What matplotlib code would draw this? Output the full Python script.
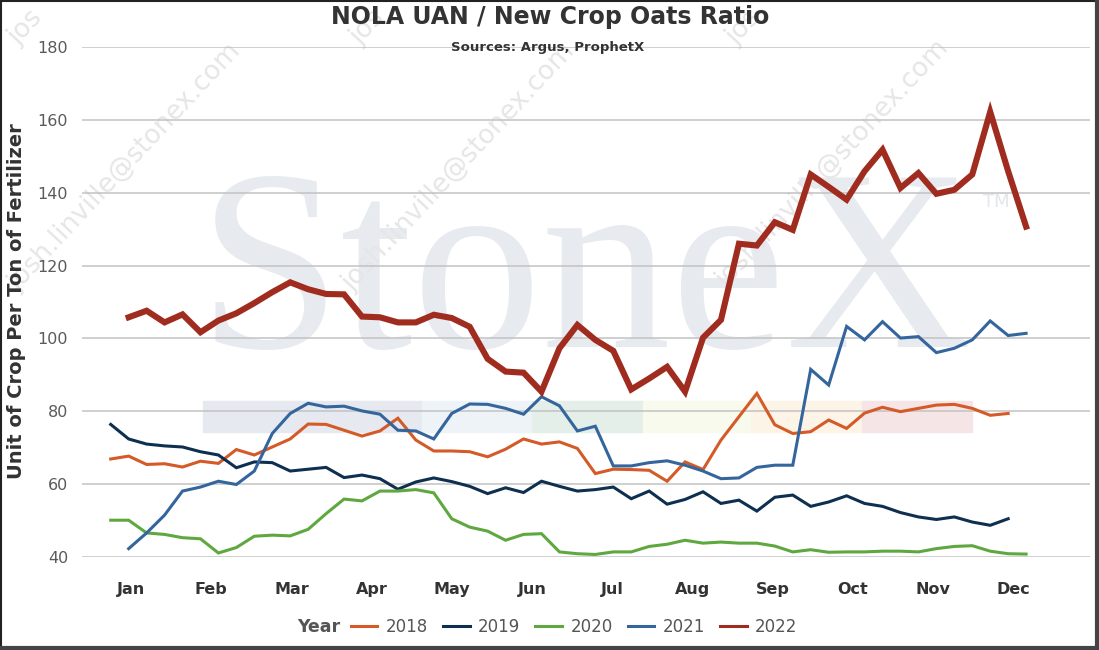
import numpy as np
import matplotlib.pyplot as plt
from matplotlib.patches import Rectangle
from matplotlib.lines import Line2D

# weekly ratio values (week index 0 = first week shown)
months = ['Jan', 'Feb', 'Mar', 'Apr', 'May', 'Jun', 'Jul', 'Aug', 'Sep', 'Oct', 'Nov', 'Dec']
years = ['2018', '2019', '2020', '2021', '2022']
colors = ['#d45a27', '#0e2f4f', '#5ea83f', '#34659c', '#a02c20']
widths = [2.2, 2.2, 2.2, 2.2, 4.4]
first_week = [0, 0, 0, 1, 1]

v2018 = [66.9, 67.7, 65.4, 65.6, 64.7, 66.3, 65.7, 69.5, 68.0, 70.2,
         72.4, 76.5, 76.4, 74.8, 73.2, 74.6, 78.1, 72.1, 69.1, 69.1,
         68.9, 67.5, 69.6, 72.4, 71.0, 71.6, 69.8, 62.9, 64.1, 64.0,
         63.8, 60.8, 66.1, 64.0, 72.1, 78.5, 84.9, 76.3, 73.9, 74.4,
         77.6, 75.3, 79.5, 81.1, 79.9, 80.8, 81.7, 81.9, 80.8, 78.9, 79.4]
v2019 = [76.4, 72.4, 71.0, 70.5, 70.2, 68.9, 68.0, 64.5, 66.1, 65.9,
         63.6, 64.1, 64.6, 61.8, 62.5, 61.5, 58.6, 60.6, 61.7, 60.7,
         59.4, 57.4, 59.0, 57.7, 60.8, 59.4, 58.1, 58.5, 59.2, 56.0,
         58.1, 54.5, 55.8, 57.9, 54.7, 55.6, 52.6, 56.4, 57.0, 53.9,
         55.1, 56.8, 54.7, 53.9, 52.2, 51.0, 50.3, 51.0, 49.6, 48.7, 50.5]
v2020 = [50.1, 50.1, 46.6, 46.2, 45.3, 45.0, 41.1, 42.6, 45.7, 46.0,
         45.8, 47.6, 51.9, 55.9, 55.4, 58.1, 58.1, 58.5, 57.6, 50.5,
         48.2, 47.1, 44.6, 46.2, 46.4, 41.4, 40.9, 40.7, 41.4, 41.4,
         42.9, 43.5, 44.6, 43.8, 44.1, 43.8, 43.8, 43.0, 41.4, 42.0,
         41.3, 41.4, 41.4, 41.6, 41.6, 41.4, 42.3, 42.9, 43.1, 41.6,
         40.9, 40.8]
v2021 = [42.3, 46.6, 51.5, 58.1, 59.2, 60.8, 59.9, 63.6, 73.9, 79.4,
         82.2, 81.2, 81.4, 80.1, 79.2, 74.8, 74.6, 72.4, 79.4, 82.0,
         81.9, 80.8, 79.2, 84.0, 81.5, 74.6, 75.9, 65.0, 65.0, 65.9,
         66.4, 65.2, 63.6, 61.5, 61.7, 64.6, 65.2, 65.2, 91.5, 87.2,
         103.3, 99.6, 104.6, 100.1, 100.5, 96.1, 97.3, 99.6, 104.8, 100.8,
         101.4]
v2022 = [105.8, 107.6, 104.4, 106.6, 101.7, 104.9, 106.9, 109.7, 112.7, 115.4,
         113.5, 112.2, 112.1, 106.0, 105.8, 104.4, 104.4, 106.5, 105.6, 103.2,
         94.4, 90.9, 90.6, 85.4, 97.3, 103.7, 99.6, 96.6, 86.0, 89.0,
         92.2, 85.4, 100.2, 105.1, 126.0, 125.5, 131.9, 129.8, 145.0, 141.6,
         138.1, 145.9, 151.8, 141.3, 145.4, 139.7, 140.8, 145.0, 162.2, 145.9,
         130.7]
series = [v2018, v2019, v2020, v2021, v2022]

W, H = 1099, 650


def fx(px):
    return px / W


def fy(py):
    return 1 - py / H


fig = plt.figure(figsize=(W / 100, H / 100), dpi=100)
fig.patch.set_facecolor('white')

# watermark: big logo, colour band and e-mail stamps
fig.text(fx(198), fy(347), 'StoneX', fontsize=186, family='Liberation Serif',
         color='#e7eaef', ha='left', va='baseline', zorder=0)
fig.text(fx(983), fy(207), 'TM', fontsize=13, color='#e3e6ea', zorder=0)
band_x = [203, 422, 532, 643, 751, 862, 972]
band_c = ['#e6e9ef', '#eef3f8', '#e5efe9', '#f9faee', '#fdf4e8', '#f6e5e7']
for i, c in enumerate(band_c):
    fig.patches.append(Rectangle((fx(band_x[i]), fy(432)), fx(band_x[i + 1] - band_x[i]),
                                 31 / H, transform=fig.transFigure, color=c, zorder=0))
stamps = [(18, 292, 'josh.linville@stonex.com'), (352, 292, 'josh.linville@stonex.com'),
          (726, 289, 'josh.linville@stonex.com'), (18, 46, 'jos'), (360, 46, 'jos'),
          (736, 46, 'jos')]
for sx, sy, s in stamps:
    fig.text(fx(sx), fy(sy), s, fontsize=19, rotation=47, rotation_mode='anchor',
             color='#e6e6e6', ha='left', va='baseline', zorder=0)

ax = fig.add_axes([fx(82), 1 - 557 / H, fx(1090 - 82), 510 / H])
ax.set_zorder(2)
ax.patch.set_alpha(0)

for yr, vals, c, lw, w0 in zip(years, series, colors, widths, first_week):
    x = np.arange(len(vals)) + w0
    ax.plot(x, vals, color=c, lw=lw, label=yr, solid_joinstyle='miter', zorder=3)

ax.set_xlim(-1.6, 54.56)
ax.set_ylim(40, 180)
ax.set_yticks(np.arange(40, 181, 20))
ax.set_xticks(np.arange(12) * 4.47 + 1.13)
ax.set_xticklabels(months, fontweight='bold', fontsize=11.5, color='#333333')
ax.tick_params(axis='y', length=0, pad=10, labelsize=11.5, labelcolor='#5a5a5a')
ax.tick_params(axis='x', length=0, pad=18)
ax.grid(axis='y', color='#c2c2c2', lw=1.1)
for s in ax.spines.values():
    s.set_visible(False)
ax.set_axisbelow(True)

fig.text(fx(550), fy(17), 'NOLA UAN / New Crop Oats Ratio', fontsize=17, fontweight='bold',
         color='#333333', ha='center', va='center')
fig.text(fx(548), fy(47), 'Sources: Argus, ProphetX', fontsize=9.5, fontweight='bold',
         color='#333333', ha='center', va='center')
fig.text(fx(17), fy(301), 'Unit of Crop Per Ton of Fertilizer', fontsize=14, fontweight='bold',
         color='#333333', rotation=90, ha='center', va='center')

handles = [Line2D([], [], color=c, lw=2.2) for c in colors]
leg = fig.legend(handles, years, loc='center', bbox_to_anchor=(fx(574), fy(627)), ncol=5,
                 frameon=False, fontsize=12, handlelength=1.6, handletextpad=0.5,
                 columnspacing=0.9)
for t in leg.get_texts():
    t.set_color('#555555')
fig.text(fx(340), fy(627), 'Year', fontsize=12.5, fontweight='bold', color='#555555',
         ha='right', va='center')

# frame around the picture
fig.add_artist(Line2D([0, 1], [fy(1), fy(1)], transform=fig.transFigure, color='#222222', lw=1.5))
fig.add_artist(Line2D([fx(1), fx(1)], [0, 1], transform=fig.transFigure, color='#222222', lw=1.5))
fig.add_artist(Line2D([0, 1], [fy(648), fy(648)], transform=fig.transFigure, color='#444444', lw=3))
fig.add_artist(Line2D([fx(1097), fx(1097)], [0, 1], transform=fig.transFigure, color='#444444', lw=3))

fig.savefig('out.png', dpi=100)
